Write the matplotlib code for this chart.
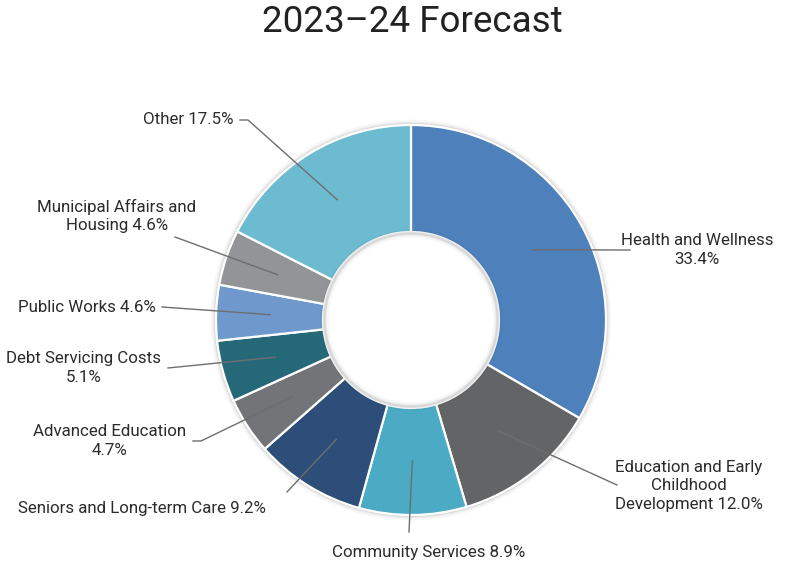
import numpy as np
import matplotlib.pyplot as plt
from matplotlib.patches import Circle

plt.rcParams['font.family'] = ['Roboto', 'DejaVu Sans']

categories = ['Health and Wellness', 'Education and Early Childhood Development',
              'Community Services', 'Seniors and Long-term Care', 'Advanced Education',
              'Debt Servicing Costs', 'Public Works', 'Municipal Affairs and Housing', 'Other']
shares = [33.4, 12.0, 8.9, 9.2, 4.7, 5.1, 4.6, 4.6, 17.5]
label_text = ['Health and Wellness\n33.4%',
              'Education and Early\nChildhood\nDevelopment 12.0%',
              'Community Services 8.9%',
              'Seniors and Long-term Care 9.2%',
              'Advanced Education\n4.7%',
              'Debt Servicing Costs\n5.1%',
              'Public Works 4.6%',
              'Municipal Affairs and\nHousing 4.6%',
              'Other 17.5%']
colors = ['#4e80bb', '#636466', '#4babc4', '#2c4e78', '#737478',
          '#256978', '#6f98cc', '#939498', '#6dbbd0']

W, H = 788, 565
fig = plt.figure(figsize=(W / 100, H / 100), dpi=100)
ax = fig.add_axes([0, 0, 1, 1])

def Y(y):
    # pixel rows measured from the top
    return H - y

cx, cy = 411, Y(320)
r_out, r_in = 195, 88

# soft shadow round the ring
for lw, a in [(7, 0.03), (4, 0.05), (2, 0.08)]:
    ax.add_patch(Circle((cx, cy), r_out + 0.5, fill=False, ec='black', lw=lw, alpha=a, zorder=0))

wedges, _ = ax.pie(shares, colors=colors, startangle=90, counterclock=False,
                   radius=r_out, center=(cx, cy),
                   wedgeprops=dict(width=r_out - r_in, edgecolor='white', linewidth=1.6))

for lw, a in [(6, 0.03), (3, 0.05), (1.5, 0.08)]:
    ax.add_patch(Circle((cx, cy), r_in - 1.5, fill=False, ec='black', lw=lw, alpha=a, zorder=3))

# label anchor (x, y) and leader line points on the label side
label_pos = [
    (697, 250),
    (689, 486),
    (429, 553),
    (142, 509),
    (110, 441),
    (84, 368),
    (87, 307),
    (117, 216),
    (188, 120),
]
leader_ends = [
    [(630, 250)],
    [(617, 485)],
    [(409, 532)],
    [(287, 492)],
    [(193, 441), (201, 441)],
    [(168, 368)],
    [(162, 307)],
    [(175, 237)],
    [(240, 120), (248, 120)],
]

r_mid = 141
for w, txt, (tx, ty), ends in zip(wedges, label_text, label_pos, leader_ends):
    ang = np.deg2rad((w.theta1 + w.theta2) / 2)
    sx, sy = cx + r_mid * np.cos(ang), cy + r_mid * np.sin(ang)
    xs = [p[0] for p in ends] + [sx]
    ys = [Y(p[1]) for p in ends] + [sy]
    ax.plot(xs, ys, color='#6e6e6e', lw=1, zorder=4)
    ax.text(tx, Y(ty), txt, ha='center', va='center', fontsize=12.2, color='#2b2b2b',
            linespacing=1.32, multialignment='center', zorder=5)

ax.text(412, Y(22), '2023\u201324 Forecast', ha='center', va='center',
        fontsize=26.5, color='#222222')

ax.set_xlim(0, W)
ax.set_ylim(0, H)
ax.set_aspect('auto')
ax.axis('off')

fig.savefig('out.png', dpi=100)
